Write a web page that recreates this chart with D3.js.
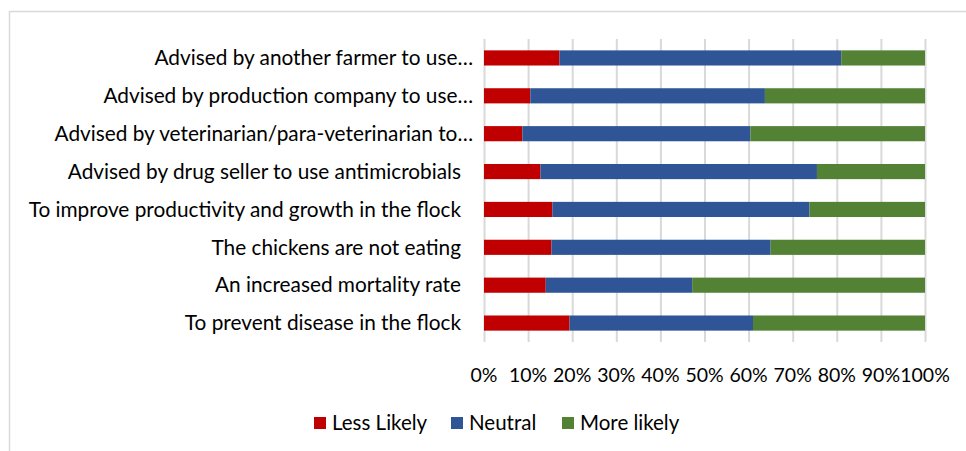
<!DOCTYPE html>
<html>
<head>
<meta charset="utf-8">
<script src="https://cdn.jsdelivr.net/npm/d3@7"></script>
<style>
  body { margin: 0; background: #fff; }
  svg { display: block; font-family: Lato, "Open Sans", sans-serif; }
  .grid line { stroke: #d9d9d9; stroke-width: 2; }
  .grid .domain { display: none; }
</style>
</head>
<body>
<svg id="chart" width="966" height="451"></svg>
<script>
var categories = [
  "Advised by another farmer to use\u2026",
  "Advised by production company to use\u2026",
  "Advised by veterinarian/para-veterinarian to\u2026",
  "Advised by drug seller to use antimicrobials",
  "To improve productivity and growth in the flock",
  "The chickens are not eating",
  "An increased mortality rate",
  "To prevent disease in the flock"
];
var lessLikely = [17.1, 10.5, 8.7, 12.8, 15.5, 15.3, 14.0, 19.4];
var neutral    = [63.9, 53.2, 51.7, 62.7, 58.3, 49.7, 33.2, 41.6];
var moreLikely = [19.0, 36.3, 39.6, 24.5, 26.2, 35.0, 52.8, 39.0];
var seriesNames = ["Less Likely", "Neutral", "More likely"];
var tickValues = [0, 0.1, 0.2, 0.3, 0.4, 0.5, 0.6, 0.7, 0.8, 0.9, 1];

var colors = ["#c00000", "#2f5597", "#548235"];

var data = categories.map(function (c, i) {
  var tot = lessLikely[i] + neutral[i] + moreLikely[i];
  return { cat: c, "Less Likely": lessLikely[i] / tot, "Neutral": neutral[i] / tot, "More likely": moreLikely[i] / tot };
});

var svg = d3.select("#chart");
var margin = { top: 39, left: 484, right: 41, bottom: 109 };
var width = 966 - margin.left - margin.right;
var height = 451 - margin.top - margin.bottom;

// chart frame
svg.append("rect")
  .attr("x", 9.5).attr("y", 11.5)
  .attr("width", 966).attr("height", 460)
  .attr("fill", "none").attr("stroke", "#d9d9d9").attr("stroke-width", 1.5);

var g = svg.append("g").attr("transform", "translate(" + margin.left + "," + margin.top + ")");

var x = d3.scaleLinear().domain([0, 1]).range([0, width]);
var y = d3.scaleBand().domain(categories).range([0, height]).paddingInner(0.6).paddingOuter(0.3);

g.append("g")
  .attr("class", "grid")
  .call(d3.axisBottom(x).tickValues(tickValues).tickSize(height).tickFormat(""));

var stack = d3.stack().keys(seriesNames);
var series = stack(data);

g.selectAll("g.series")
  .data(series)
  .enter().append("g")
  .attr("class", "series")
  .attr("fill", function (d, i) { return colors[i]; })
  .selectAll("rect")
  .data(function (d) { return d; })
  .enter().append("rect")
  .attr("x", function (d) { return x(d[0]); })
  .attr("width", function (d) { return x(d[1]) - x(d[0]); })
  .attr("y", function (d) { return y(d.data.cat); })
  .attr("height", y.bandwidth());

// category labels (truncated ones run closer to the axis, like Excel does)
g.selectAll("text.cat")
  .data(categories)
  .enter().append("text")
  .attr("class", "cat")
  .attr("x", function (d) { return d.slice(-1) === "\u2026" ? -11 : -23; })
  .attr("y", function (d) { return y(d) + y.bandwidth() / 2; })
  .attr("dy", "0.35em")
  .attr("text-anchor", "end")
  .attr("font-size", 20.8)
  .attr("fill", "#000")
  .text(function (d) { return d; });

// x tick labels
g.selectAll("text.tick")
  .data(tickValues)
  .enter().append("text")
  .attr("class", "tick")
  .attr("x", function (d) { return x(d); })
  .attr("y", height + 33)
  .attr("dy", "0.35em")
  .attr("text-anchor", "middle")
  .attr("font-size", 19.5)
  .attr("fill", "#000")
  .text(d3.format(".0%"));

// legend
var legendX = [314, 451, 562];
var legend = svg.selectAll("g.legend")
  .data(seriesNames)
  .enter().append("g")
  .attr("class", "legend")
  .attr("transform", function (d, i) { return "translate(" + legendX[i] + ",417)"; });

legend.append("rect")
  .attr("width", 12).attr("height", 12)
  .attr("fill", function (d, i) { return colors[i]; });

legend.append("text")
  .attr("x", 18).attr("y", 6)
  .attr("dy", "0.35em")
  .attr("font-size", 20.5)
  .attr("fill", "#000")
  .text(function (d) { return d; });
</script>
</body>
</html>
